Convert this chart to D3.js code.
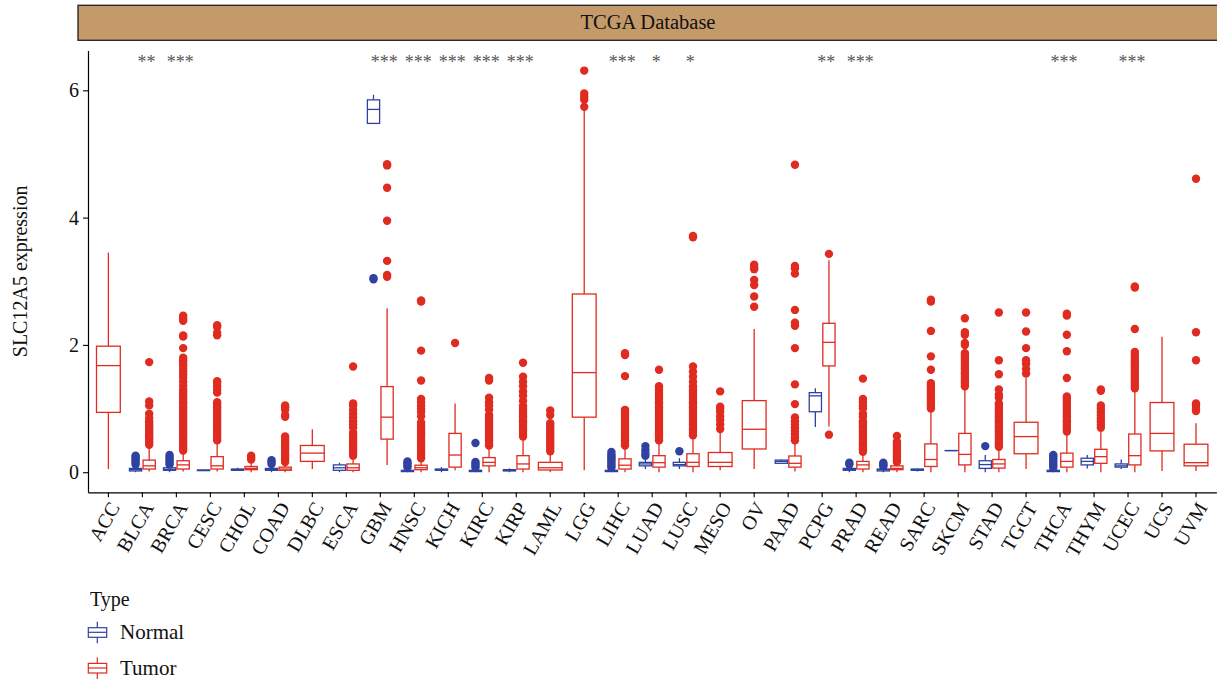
<!DOCTYPE html>
<html>
<head>
<meta charset="utf-8">
<script src="https://cdn.jsdelivr.net/npm/d3@7"></script>
<style>
  body { margin: 0; background: #fff; }
  text { font-family: "Liberation Serif", "Times New Roman", serif; }
</style>
</head>
<body>
<svg id="chart" width="1217" height="682"></svg>
<script>
// ---- data: SLC12A5 expression by TCGA cancer type ----
const categories = ["ACC","BLCA","BRCA","CESC","CHOL","COAD","DLBC","ESCA","GBM","HNSC","KICH",
  "KIRC","KIRP","LAML","LGG","LIHC","LUAD","LUSC","MESO","OV","PAAD","PCPG","PRAD","READ",
  "SARC","SKCM","STAD","TGCT","THCA","THYM","UCEC","UCS","UVM"];

const signif = ["","**","***","","","","","","***","***","***","***","***","","","***","*","*",
  "","","","**","***","","","","","","***","","***","",""];

const types = ["Normal","Tumor"];
const yTicks = [0, 2, 4, 6];

// Tumor box statistics (lower whisker, Q1, median, Q3, upper whisker)
const tumorLow    = [0.05,0.01,0.01,0.01,0.00,0.00,0.05,0.00,0.115,0.00,0.03,0.00,0.00,0.00,0.03,0.00,0.00,0.00,0.03,0.05,0.01,0.72,0.00,0.00,0.00,0.00,0.00,0.05,0.00,0.00,0.00,0.02,0.02];
const tumorQ1     = [0.94,0.05,0.05,0.05,0.04,0.03,0.17,0.03,0.52,0.04,0.08,0.10,0.05,0.035,0.865,0.05,0.08,0.09,0.09,0.365,0.08,1.67,0.05,0.04,0.09,0.115,0.065,0.29,0.08,0.14,0.115,0.335,0.10];
const tumorMedian = [1.675,0.10,0.115,0.10,0.06,0.05,0.30,0.07,0.865,0.07,0.27,0.155,0.13,0.07,1.565,0.11,0.15,0.155,0.155,0.675,0.14,2.04,0.115,0.06,0.20,0.28,0.13,0.56,0.17,0.245,0.26,0.61,0.15];
const tumorQ3     = [1.98,0.19,0.18,0.245,0.09,0.08,0.42,0.13,1.345,0.11,0.61,0.23,0.26,0.155,2.80,0.21,0.26,0.29,0.31,1.125,0.255,2.34,0.17,0.10,0.445,0.61,0.20,0.785,0.30,0.36,0.60,1.095,0.44];
const tumorHigh   = [3.45,0.41,0.32,0.48,0.16,0.14,0.675,0.24,2.575,0.20,1.08,0.40,0.53,0.31,5.70,0.40,0.48,0.56,0.66,2.25,0.48,3.33,0.30,0.14,0.98,1.32,0.37,1.48,0.61,0.66,1.29,2.13,0.77];

const tumorOutliers = [
  [],
  [0.43,0.46,0.49,0.52,0.55,0.58,0.61,0.64,0.67,0.70,0.73,0.76,0.80,0.85,0.92,1.05,1.11,1.73],
  [0.34,0.38,0.42,0.46,0.50,0.54,0.58,0.62,0.66,0.70,0.74,0.78,0.82,0.86,0.90,0.94,0.98,1.02,1.06,1.10,1.14,1.18,1.22,1.26,1.30,1.36,1.42,1.48,1.53,1.58,1.63,1.68,1.72,1.76,1.80,1.95,2.13,2.15,2.38,2.42,2.46],
  [0.50,0.54,0.58,0.62,0.66,0.70,0.74,0.78,0.82,0.86,0.90,0.94,0.98,1.02,1.06,1.10,1.25,1.30,1.35,1.40,1.43,2.15,2.19,2.28,2.31],
  [0.20,0.23,0.26],
  [0.16,0.20,0.24,0.28,0.32,0.36,0.40,0.44,0.48,0.52,0.56,0.87,0.90,0.98,1.02,1.05],
  [],
  [0.26,0.30,0.34,0.38,0.42,0.46,0.50,0.54,0.58,0.62,0.70,0.75,0.80,0.86,0.92,0.98,1.05,1.08,1.66],
  [3.07,3.10,3.32,3.95,4.47,4.82,4.84],
  [0.22,0.26,0.30,0.34,0.38,0.42,0.46,0.50,0.54,0.58,0.62,0.66,0.70,0.74,0.78,0.88,0.95,1.00,1.05,1.10,1.15,1.44,1.91,2.68,2.70],
  [2.03],
  [0.42,0.46,0.50,0.54,0.58,0.62,0.66,0.70,0.74,0.78,0.82,0.86,0.90,0.98,1.05,1.10,1.17,1.44,1.48],
  [0.56,0.60,0.64,0.68,0.72,0.76,0.80,0.84,0.88,0.92,0.96,1.00,1.04,1.12,1.20,1.27,1.35,1.42,1.50,1.72],
  [0.33,0.37,0.41,0.45,0.49,0.53,0.57,0.61,0.65,0.69,0.73,0.77,0.90,0.97],
  [5.74,5.85,5.90,5.95,6.31],
  [0.42,0.46,0.50,0.54,0.58,0.62,0.66,0.70,0.74,0.78,0.82,0.86,0.90,0.94,0.98,1.51,1.84,1.87],
  [0.50,0.54,0.58,0.62,0.66,0.70,0.74,0.78,0.82,0.86,0.90,0.94,0.98,1.02,1.06,1.10,1.14,1.18,1.22,1.26,1.30,1.35,1.61],
  [0.58,0.62,0.66,0.70,0.74,0.78,0.82,0.86,0.90,0.94,0.98,1.02,1.06,1.10,1.14,1.18,1.22,1.26,1.30,1.35,1.42,1.50,1.58,1.66,3.69,3.71],
  [0.68,0.75,0.82,0.88,0.95,1.00,1.03,1.27],
  [2.60,2.76,2.94,3.02,3.19,3.22,3.26],
  [0.50,0.55,0.60,0.65,0.70,0.75,0.80,0.86,1.07,1.38,1.95,2.30,2.35,2.55,3.12,3.20,3.24,4.83],
  [0.59,3.43],
  [0.32,0.36,0.40,0.44,0.48,0.52,0.56,0.60,0.64,0.68,0.72,0.76,0.80,0.87,0.92,1.00,1.05,1.10,1.15,1.47],
  [0.16,0.20,0.24,0.28,0.32,0.36,0.40,0.44,0.48,0.57],
  [1.00,1.04,1.08,1.12,1.16,1.20,1.24,1.28,1.32,1.36,1.40,1.61,1.82,2.22,2.68,2.71],
  [1.35,1.39,1.43,1.47,1.51,1.55,1.59,1.63,1.67,1.71,1.75,1.79,1.83,1.87,2.00,2.03,2.16,2.20,2.42],
  [0.40,0.44,0.48,0.52,0.56,0.60,0.64,0.68,0.72,0.76,0.80,0.84,0.88,0.92,0.96,1.00,1.04,1.08,1.17,1.22,1.30,1.54,1.76,2.51],
  [1.55,1.62,1.70,1.76,1.95,2.21,2.51],
  [0.64,0.68,0.72,0.76,0.80,0.84,0.88,0.92,0.96,1.00,1.04,1.08,1.12,1.16,1.19,1.48,1.90,2.16,2.46,2.49],
  [0.70,0.75,0.80,0.85,0.90,0.95,1.00,1.05,1.28,1.30],
  [1.32,1.36,1.40,1.44,1.48,1.52,1.56,1.60,1.64,1.68,1.72,1.76,1.80,1.84,1.89,2.25,2.90,2.92],
  [],
  [0.96,1.00,1.05,1.08,1.76,2.20,4.61]
];

// Normal box statistics (null where the cohort has no normal samples)
const normalLow    = [null,0.00,0.00,0.02,0.02,0.00,null,0.00,5.47,0.00,0.00,0.00,0.00,null,null,0.00,0.05,0.05,null,null,0.13,0.71,0.00,0.00,0.01,0.34,0.00,null,0.00,0.06,0.05,null,null];
const normalQ1     = [null,0.02,0.03,0.025,0.03,0.03,null,0.03,5.48,0.01,0.03,0.01,0.02,null,null,0.01,0.10,0.10,null,null,0.14,0.95,0.03,0.02,0.03,0.34,0.06,null,0.01,0.115,0.08,null,null];
const normalMedian = [null,0.04,0.045,0.03,0.04,0.04,null,0.07,5.70,0.02,0.04,0.02,0.03,null,null,0.02,0.13,0.12,null,null,0.17,1.20,0.045,0.04,0.04,0.34,0.12,null,0.02,0.17,0.10,null,null];
const normalQ3     = [null,0.06,0.07,0.035,0.05,0.06,null,0.115,5.85,0.03,0.05,0.03,0.04,null,null,0.03,0.155,0.155,null,null,0.19,1.25,0.06,0.05,0.05,0.34,0.18,null,0.03,0.22,0.13,null,null];
const normalHigh   = [null,0.10,0.10,0.04,0.07,0.09,null,0.15,5.93,0.05,0.08,0.05,0.06,null,null,0.05,0.22,0.22,null,null,0.20,1.32,0.09,0.07,0.06,0.34,0.27,null,0.05,0.27,0.20,null,null];

const normalOutliers = [
  [],
  [0.12,0.15,0.18,0.21,0.24,0.26],
  [0.12,0.15,0.18,0.21,0.24,0.27],
  [], [],
  [0.13,0.16,0.19],
  [], [],
  [3.03,3.05],
  [0.08,0.11,0.14,0.17],
  [],
  [0.07,0.10,0.13,0.16,0.46],
  [], [], [],
  [0.07,0.10,0.13,0.16,0.19,0.22,0.25,0.28,0.32],
  [0.26,0.30,0.35,0.41],
  [0.33],
  [], [], [], [],
  [0.12,0.15],
  [0.09,0.11,0.13,0.15],
  [], [],
  [0.41],
  [],
  [0.07,0.10,0.13,0.16,0.19,0.22,0.25,0.27],
  [], [], [], []
];

// ---- layout ----
const colors = { Normal: "#2f42a0", Tumor: "#e02b20" };
const svg = d3.select("#chart");
const panel = { left: 88, right: 1216.4, top: 50.5, bottom: 492.3 };

const x = d3.scaleBand()
  .domain(categories)
  .range([panel.left, panel.right])
  .paddingInner(0)
  .paddingOuter(0.1);

const y = d3.scaleLinear()
  .domain([-0.3155, 6.6255])
  .range([panel.bottom, panel.top]);

const step = x.step();
const center = c => x(c) + x.bandwidth() / 2;

// strip header
svg.append("rect")
  .attr("x", 78).attr("y", 5.3)
  .attr("width", 1160).attr("height", 35)
  .attr("fill", "#c49a6b").attr("stroke", "#2b2b2b").attr("stroke-width", 1.4);
svg.append("text")
  .attr("x", 648).attr("y", 29)
  .attr("text-anchor", "middle")
  .attr("font-size", 20.5).attr("fill", "#111")
  .text("TCGA Database");

// one box-and-whisker glyph with its outlier points, in its own group
function drawBox(parent, cx, w, lo, q1, med, q3, hi, outs, col) {
  const g = parent.append("g");
  g.append("line").attr("x1", cx).attr("x2", cx).attr("y1", y(q3)).attr("y2", y(hi))
    .attr("stroke", col).attr("stroke-width", 1.3);
  g.append("line").attr("x1", cx).attr("x2", cx).attr("y1", y(q1)).attr("y2", y(lo))
    .attr("stroke", col).attr("stroke-width", 1.3);
  g.append("rect").attr("x", cx - w / 2).attr("width", w)
    .attr("y", y(q3)).attr("height", Math.max(y(q1) - y(q3), 0.01))
    .attr("fill", "#fff").attr("stroke", col).attr("stroke-width", 1.3);
  g.append("line").attr("x1", cx - w / 2).attr("x2", cx + w / 2)
    .attr("y1", y(med)).attr("y2", y(med))
    .attr("stroke", col).attr("stroke-width", 1.3);
  g.selectAll("circle").data(outs).join("circle")
    .attr("cx", cx).attr("cy", d => y(d)).attr("r", 4.2)
    .attr("fill", col);
}

const boxes = svg.append("g");
categories.forEach((c, i) => {
  const cx = center(c);
  if (normalQ1[i] === null) {
    drawBox(boxes, cx, 0.7 * step, tumorLow[i], tumorQ1[i], tumorMedian[i], tumorQ3[i], tumorHigh[i], tumorOutliers[i], colors.Tumor);
  } else {
    const w = 0.36 * step, off = 0.2 * step;
    drawBox(boxes, cx - off, w, normalLow[i], normalQ1[i], normalMedian[i], normalQ3[i], normalHigh[i], normalOutliers[i], colors.Normal);
    drawBox(boxes, cx + off, w, tumorLow[i], tumorQ1[i], tumorMedian[i], tumorQ3[i], tumorHigh[i], tumorOutliers[i], colors.Tumor);
  }
});

// significance labels
svg.append("g").selectAll("text").data(categories).join("text")
  .attr("x", c => center(c) + 4)
  .attr("y", 68)
  .attr("text-anchor", "middle")
  .attr("font-size", 18).attr("fill", "#555")
  .text((c, i) => signif[i]);

// axes
const yAxis = svg.append("g")
  .attr("transform", `translate(${panel.left},0)`)
  .call(d3.axisLeft(y).tickValues(yTicks).tickFormat(d3.format("d")).tickSize(5).tickSizeOuter(0).tickPadding(4));
yAxis.select(".domain").attr("stroke", "#000").attr("stroke-width", 1.2);
yAxis.selectAll(".tick line").attr("stroke", "#000").attr("stroke-width", 1.1);
yAxis.selectAll("text").attr("font-size", 20).attr("fill", "#111")
  .style("font-family", '"Liberation Serif", "Times New Roman", serif');

const xAxis = svg.append("g")
  .attr("transform", `translate(0,${panel.bottom})`)
  .call(d3.axisBottom(x).tickSize(5).tickSizeOuter(0));
xAxis.select(".domain").attr("stroke", "#000").attr("stroke-width", 1.2);
xAxis.selectAll(".tick line").attr("stroke", "#000").attr("stroke-width", 1.1);
xAxis.selectAll("text")
  .attr("y", 0).attr("dy", "0.7em")
  .attr("transform", "translate(0,8) rotate(-60)")
  .attr("text-anchor", "end")
  .attr("font-size", 20).attr("fill", "#111")
  .style("font-family", '"Liberation Serif", "Times New Roman", serif');

// y axis title
svg.append("text")
  .attr("transform", `translate(27,${(panel.top + panel.bottom) / 2}) rotate(-90)`)
  .attr("text-anchor", "middle")
  .attr("font-size", 20).attr("fill", "#111")
  .text("SLC12A5 expression");

// legend
const legend = svg.append("g").attr("transform", "translate(88,0)");
legend.append("text").attr("x", 2).attr("y", 606).attr("font-size", 20).attr("fill", "#111").text("Type");
types.forEach((t, i) => {
  const cy = 632.3 + i * 35.7;
  const lg = legend.append("g");
  const col = colors[t];
  lg.append("line").attr("x1", 9.3).attr("x2", 9.3).attr("y1", cy - 10.6).attr("y2", cy + 11)
    .attr("stroke", col).attr("stroke-width", 1.2);
  lg.append("rect").attr("x", 0.3).attr("y", cy - 4.6).attr("width", 18.4).attr("height", 9.6)
    .attr("fill", "#fff").attr("stroke", col).attr("stroke-width", 1.2);
  lg.append("line").attr("x1", 0.3).attr("x2", 18.7).attr("y1", cy).attr("y2", cy)
    .attr("stroke", col).attr("stroke-width", 1.2);
  lg.append("text").attr("x", 32).attr("y", cy + 7).attr("font-size", 21).attr("fill", "#111").text(t);
});
</script>
</body>
</html>
